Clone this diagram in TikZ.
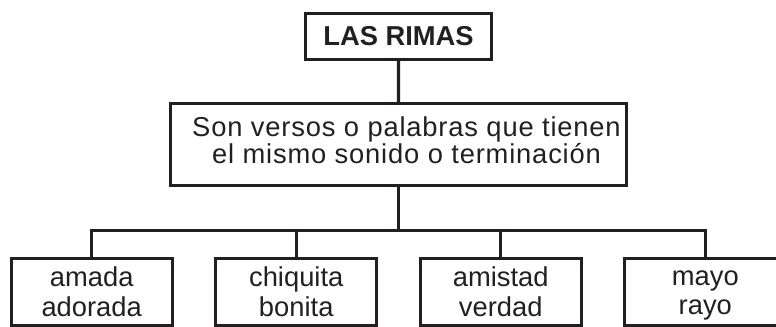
\documentclass[tikz,border=0pt]{standalone}
\usepackage{fontspec}
\setmainfont{Liberation Sans}
\newfontfamily\espaciada[LetterSpace=3]{Liberation Sans}
\usetikzlibrary{trees}
\definecolor{ink}{HTML}{231F20}
\newcommand{\rimastrut}{\rule[-1.5pt]{0pt}{17.5pt}}
\newcommand{\lineaalta}{\rule{0pt}{15.5pt}}
\newcommand{\lineabaja}{\rule[-7.3pt]{0pt}{7.3pt}}

\begin{document}
\begin{tikzpicture}[level distance=81pt]
        \tikzstyle{every node}=[draw=ink, text=ink, line width=2.4pt, inner sep=0pt, align=center, font=\fontsize{20.5pt}{22pt}\selectfont]
        \tikzstyle{edge from parent}=[draw=ink, line width=2.4pt]
        \tikzstyle{level 1}=[level distance=81pt]
        \tikzstyle{level 2}=[level distance=110.6pt, sibling distance=153.4pt, edge from parent path={(\tikzparentnode.south) -- +(0,-32.6pt) -| (\tikzchildnode.north)}]
        \tikzstyle{rimabox}=[minimum width=120.75pt, minimum height=50.25pt]

% Title, definition and the four pairs of rhyming words.
        \clip (0,0) rectangle (582pt,-245.25pt);

        \node[minimum width=139.5pt, minimum height=34.5pt, font=\fontsize{20.5pt}{22pt}\selectfont\bfseries] (rimas) at (298.875pt,-27.375pt) {LAS RIMAS}
          child {node[minimum width=342pt, minimum height=61.5pt, font=\espaciada\fontsize{20.5pt}{20.5pt}\selectfont] (definicion) {\hspace*{12pt}Son versos o palabras que tienen\lineaalta\\\hspace*{12pt}el mismo sonido o terminación\lineabaja}
            child {node[rimabox] (amada) {amada\rimastrut\\adorada\rimastrut}}
            child {node[rimabox] (chiquita) {chiquita\rimastrut\\bonita\rimastrut}}
            child {node[rimabox] (amistad) {amistad\rimastrut\\verdad\rimastrut}}
            child {node[rimabox] (mayo) {mayo\rimastrut\\rayo\rimastrut}}
          };

    \end{tikzpicture}
\end{document}
